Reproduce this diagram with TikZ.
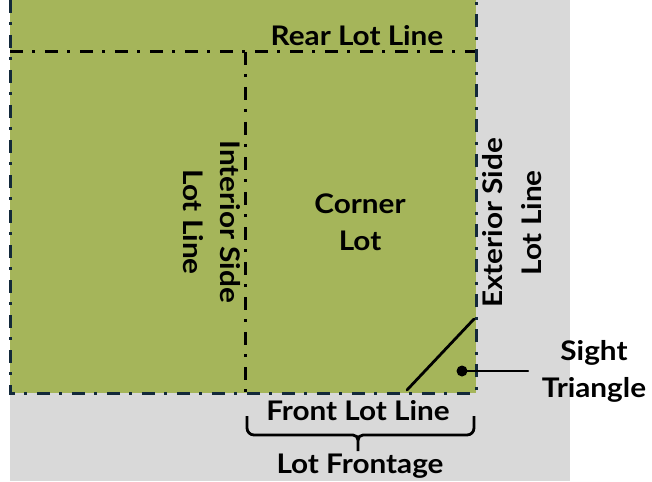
\documentclass[tikz,border=0pt]{standalone}
\usepackage{fontspec}
\setmainfont{Lato}[FakeStretch=1.1]
\begin{document}
\begin{tikzpicture}[x=1pt,y=-1pt,
  lbl/.style={font=\bfseries\fontsize{27}{31}\selectfont, inner sep=0pt},
  lotline/.style={line width=3pt, dash pattern=on 13pt off 9pt on 3pt off 10pt},
  edge/.style={lotline, draw=navy},
  plain/.style={line width=2.8pt, line cap=round}]
\definecolor{lotgreen}{HTML}{A5B55A}
\definecolor{road}{HTML}{D9D9D9}
\definecolor{navy}{HTML}{13293A}
\useasboundingbox (0,0) rectangle (652,481);
\fill[white] (0,0) rectangle (652,481);
\fill[road] (10,0) rectangle (570,481);
\fill[lotgreen] (10,0) rectangle (476,393);
% lot lines
\coordinate (tl) at (10,0);
\coordinate (tr) at (476,0);
\coordinate (bl) at (10,393);
\coordinate (br) at (476,393);
\coordinate (rl) at (10,52);
\coordinate (rr) at (476,52);
\coordinate (it) at (245,52);
\coordinate (ib) at (245,393);
\draw[lotline] (rl) -- (rr);
\draw[lotline] (it) -- (ib);
\draw[edge] (tl) -- (bl) -- (br) -- (tr);
% sight triangle
\coordinate (s1) at (407,390);
\coordinate (s2) at (474,319);
\draw[plain] (s1) -- (s2);
% labels
\node[lbl] (rear) at (357,36) {Rear Lot Line};
\node[lbl, align=center] (corner) at (360,222) {Corner\\[6pt]Lot};
\node[lbl, rotate=-90] (int1) at (230,222) {Interior Side};
\node[lbl, rotate=-90] (int2) at (193,222) {Lot Line};
\node[lbl, rotate=90] (ext1) at (493,223) {Exterior Side};
\node[lbl, rotate=90] (ext2) at (532,223) {Lot Line};
\node[lbl] (front) at (358,411) {Front Lot Line};
\node[lbl] (frontage) at (360,466) {Lot Frontage};
\node[lbl, align=center] (sight) at (594,371) {Sight\\[6pt]Triangle};
\node[circle, fill=black, inner sep=0pt, minimum size=11pt] (dot) at (462,371) {};
\draw[plain, line width=2.4pt] (dot.center) -- (528,371);
% brace
\draw[plain, line cap=butt]
  (247,416) -- (247,428) to[out=-90,in=180] (254,435) -- (353,435)
  to[out=0,in=90] (358,440) -- (358,451);
\draw[plain, line cap=butt]
  (474,416) -- (474,428) to[out=-90,in=0] (467,435) -- (363,435)
  to[out=180,in=90] (358,440);
\end{tikzpicture}
\end{document}
